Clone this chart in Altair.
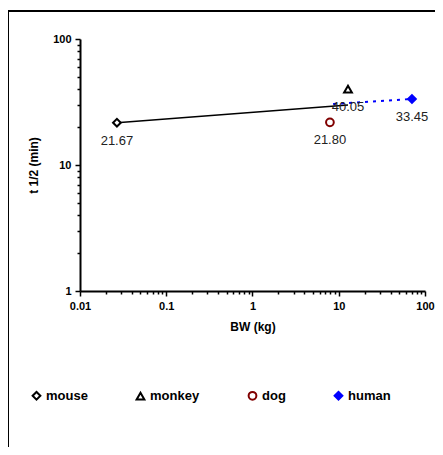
import altair as alt
import pandas as pd

species = ["mouse", "monkey", "dog", "human"]
bw_kg = [0.0268, 12.8, 7.9, 70.6]
t_half = [21.67, 40.05, 21.80, 33.45]
labels = ["21.67", "40.05", "21.80", "33.45"]

fit_bw = [0.0268, 12.8]
fit_t = [21.67, 29.9]
ext_bw = [8.6, 70.6]
ext_t = [30.5, 33.45]

shapes = ["diamond", "triangle-up", "circle", "diamond"]
strokes = ["#000000", "#000000", "#800000", "#0000FF"]
fills = ["#FFFFFF", "#FFFFFF", "#FFFFFF", "#0000FF"]

x_ticks = [round(m * 10 ** e, 6) for e in range(-2, 2) for m in range(1, 10)] + [100]
y_ticks = [round(m * 10 ** e, 6) for e in range(0, 2) for m in range(1, 10)] + [100]

pts = pd.DataFrame({"species": species, "bw": bw_kg, "t": t_half, "label": labels})
fit = pd.DataFrame({"bw": fit_bw, "t": fit_t})
ext = pd.DataFrame({"bw": ext_bw, "t": ext_t})

FONT = "Liberation Sans"
is_major = "abs(log(datum.value)/LN10 - round(log(datum.value)/LN10)) < 1e-6"

xscale = alt.Scale(type="log", domain=[0.01, 100], nice=False)
yscale = alt.Scale(type="log", domain=[1, 100], nice=False)

xaxis = alt.Axis(values=x_ticks, title="BW (kg)", grid=False,
                 labelExpr=f"({is_major}) ? toString(datum.value) : ''",
                 labelFont=FONT, labelFontSize=11, labelFontWeight="bold", labelColor="black",
                 labelPadding=4, titleFont=FONT, titleFontSize=12, titleFontWeight="bold",
                 titlePadding=10, domainColor="black", domainWidth=2, tickColor="black",
                 tickWidth=1.5, tickSize={"condition": {"test": is_major, "value": 5}, "value": 3},
                 labelOverlap=False, labelFlush=False)
yaxis = alt.Axis(values=y_ticks, title="t 1/2 (min)", grid=False,
                 labelExpr=f"({is_major}) ? toString(datum.value) : ''",
                 labelFont=FONT, labelFontSize=11, labelFontWeight="bold", labelColor="black",
                 labelPadding=4, titleFont=FONT, titleFontSize=12, titleFontWeight="bold",
                 titlePadding=12, domainColor="black", domainWidth=2, tickColor="black",
                 tickWidth=1.5, tickSize={"condition": {"test": is_major, "value": 5}, "value": 3},
                 labelOverlap=False, labelFlush=False)

legend = alt.Legend(title=None, orient="none", legendX=-50, legendY=350,
                    direction="horizontal", columns=4, columnPadding=44,
                    labelFont=FONT, labelFontSize=13, labelFontWeight="bold", labelColor="black",
                    symbolSize=60, symbolStrokeWidth=2, labelOffset=3)

frame = alt.Chart(pd.DataFrame({"a": [0]})).mark_rect(
    fill=None, stroke="black", strokeWidth=2
).encode(x=alt.value(-72), x2=alt.value(450), y=alt.value(-28), y2=alt.value(600))

fit_line = alt.Chart(fit).mark_line(color="black", strokeWidth=1.6).encode(
    x=alt.X("bw:Q", scale=xscale, axis=xaxis),
    y=alt.Y("t:Q", scale=yscale, axis=yaxis),
)
ext_line = alt.Chart(ext).mark_line(color="#0000FF", strokeWidth=2, strokeDash=[3, 5]).encode(
    x=alt.X("bw:Q", scale=xscale),
    y=alt.Y("t:Q", scale=yscale),
)

points = alt.Chart(pts).mark_point(strokeWidth=2, opacity=1, size=60).encode(
    x=alt.X("bw:Q", scale=xscale),
    y=alt.Y("t:Q", scale=yscale),
    shape=alt.Shape("species:N", scale=alt.Scale(domain=species, range=shapes), legend=legend),
    stroke=alt.Stroke("species:N", scale=alt.Scale(domain=species, range=strokes), legend=legend),
    fill=alt.Fill("species:N", scale=alt.Scale(domain=species, range=fills), legend=legend),
)

texts = alt.Chart(pts).mark_text(font=FONT, fontSize=13, color="#222", dy=18,
                                 baseline="middle").encode(
    x=alt.X("bw:Q", scale=xscale),
    y=alt.Y("t:Q", scale=yscale),
    text="label:N",
)

chart = alt.layer(frame, fit_line, ext_line, points, texts).properties(
    width=345, height=252,
    autosize=alt.AutoSizeParams(type="none"),
    padding={"left": 72, "top": 31, "right": 10, "bottom": 156},
    background="white",
).configure_view(stroke=None)

chart.save("out.html", embed_options={"renderer": "svg", "actions": False})
